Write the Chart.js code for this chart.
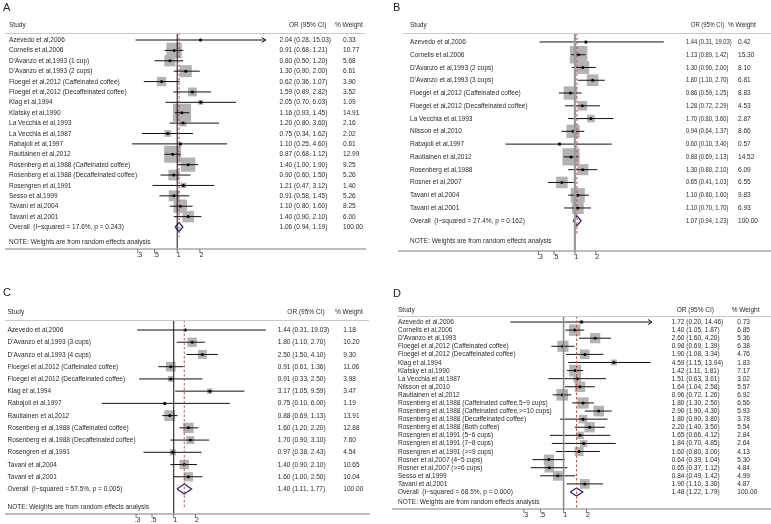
<!DOCTYPE html>
<html><head><meta charset="utf-8">
<script src="https://cdn.jsdelivr.net/npm/chart.js@4/dist/chart.umd.min.js"></script>
<style>
html,body{margin:0;padding:0;background:#fff;}
#wrap{position:relative;width:771px;height:524px;overflow:hidden;background:#fff;}
.p{position:absolute;}
canvas{display:block;}
</style></head><body>
<div id="wrap">
<div class="p" style="left:0;top:0;width:385px;height:262px"><canvas id="cA" width="385" height="262"></canvas></div>
<div class="p" style="left:385px;top:0;width:386px;height:262px"><canvas id="cB" width="386" height="262"></canvas></div>
<div class="p" style="left:0;top:262px;width:385px;height:262px"><canvas id="cC" width="385" height="262"></canvas></div>
<div class="p" style="left:385px;top:262px;width:386px;height:262px"><canvas id="cD" width="386" height="262"></canvas></div>
</div>
<script>
// ---------- DATA ----------
const tickValues = [0.3, 0.5, 1, 2];
const tickLabels = [".3", ".5", "1", "2"];
const headStudy = "Study", headOR = "OR (95% CI)", headW = "% Weight";
const noteText = "NOTE: Weights are from random effects analysis";

const A_studies = ["Azevedo et al,2006","Cornelis et al,2006","D'Avanzo et al,1993 (1 cup)","D'Avanzo et al,1993 (2 cups)","Floegel et al,2012 (Caffeinated coffee)","Floegel et al,2012 (Decaffeinated coffee)","Klag et al,1994","Klatsky et al,1990","La Vecchia et al,1993","La Vecchia et al,1987","Rabajoli et al,1997","Rautiainen et al,2012","Rosenberg et al,1988 (Caffeinated coffee)","Rosenberg et al,1988 (Decaffeinated coffee)","Rosengren et al,1991","Sesso et al,1999","Tavani et al,2004","Tavani et al,2001"];
const A_or = [2.04,0.91,0.80,1.30,0.62,1.59,2.05,1.16,1.20,0.75,1.10,0.87,1.40,0.90,1.21,0.91,1.10,1.40];
const A_lo = [0.28,0.68,0.50,0.90,0.36,0.89,0.70,0.93,0.80,0.34,0.25,0.68,1.00,0.60,0.47,0.58,0.80,0.90];
const A_hi = [15.03,1.21,1.20,2.00,1.07,2.82,6.03,1.45,3.60,1.62,4.60,1.12,1.90,1.50,3.12,1.45,1.60,2.10];
const A_weight = [0.33,10.77,5.68,6.61,3.90,3.52,1.09,14.91,2.16,2.02,0.61,12.99,9.25,5.26,1.40,5.26,8.25,6.00];
const A_overall = [1.06,0.94,1.19];
const A_overallLabel = "Overall  (I\u2212squared = 17.6%, p = 0.243)";
const A_arrowRows = [0];

const B_studies = ["Azevedo et al,2006","Cornelis et al,2006","D'Avanzo et al,1993 (2 cups)","D'Avanzo et al,1993 (3 cups)","Floegel et al,2012 (Caffeinated coffee)","Floegel et al,2012 (Decaffeinated coffee)","La Vecchia et al,1993","Nilsson et al,2010","Rabajoli et al,1997","Rautiainen et al,2012","Rosenberg et al,1988","Rosner et al,2007","Tavani et al,2004","Tavani et al,2001"];
const B_or = [1.44,1.13,1.30,1.80,0.86,1.28,1.70,0.94,0.60,0.88,1.30,0.65,1.10,1.10];
const B_lo = [0.31,0.89,0.90,1.10,0.59,0.72,0.80,0.64,0.10,0.69,0.80,0.41,0.80,0.70];
const B_hi = [19.03,1.42,2.00,2.70,1.25,2.29,3.60,1.37,3.40,1.13,2.10,1.03,1.60,1.70];
const B_weight = [0.42,15.30,8.10,6.81,8.83,4.53,2.87,8.66,0.57,14.52,6.09,6.55,9.83,6.93];
const B_overall = [1.07,0.94,1.23];
const B_overallLabel = "Overall  (I\u2212squared = 27.4%, p = 0.162)";
const B_arrowRows = [];

const C_studies = ["Azevedo et al,2006","D'Avanzo et al,1993 (3 cups)","D'Avanzo et al,1993 (4 cups)","Floegel et al,2012 (Caffeinated coffee)","Floegel et al,2012 (Decaffeinated coffee)","Klag et al,1994","Rabajoli et al,1997","Rautiainen et al,2012","Rosenberg et al,1988 (Caffeinated coffee)","Rosenberg et al,1988 (Decaffeinated coffee)","Rosengren et al,1991","Tavani et al,2004","Tavani et al,2001"];
const C_or = [1.44,1.80,2.50,0.91,0.91,3.17,0.75,0.88,1.60,1.70,0.97,1.40,1.60];
const C_lo = [0.31,1.10,1.50,0.61,0.33,1.05,0.10,0.69,1.20,0.90,0.38,0.90,1.00];
const C_hi = [19.03,2.70,4.10,1.36,2.50,9.59,6.00,1.13,2.20,3.10,2.43,2.10,2.50];
const C_weight = [1.18,10.20,9.30,11.06,3.98,3.47,1.19,13.91,12.88,7.60,4.54,10.65,10.04];
const C_overall = [1.40,1.11,1.77];
const C_overallLabel = "Overall  (I\u2212squared = 57.5%, p = 0.005)";
const C_arrowRows = [];

const D_studies = ["Azevedo et al,2006","Cornelis et al,2006","D'Avanzo et al,1993","Floegel et al,2012 (Caffeinated coffee)","Floegel et al,2012 (Decaffeinated coffee)","Klag et al,1994","Klatsky et al,1990","La Vecchia et al,1987","Nilsson et al,2010","Rautiainen et al,2012","Rosenberg et al,1988 (Caffeinated coffee,5\u22129 cups)","Rosenberg et al,1988 (Caffeinated coffee,>=10 cups)","Rosenberg et al,1988 (Decaffeinated coffee)","Rosenberg et al,1988 (Both coffee)","Rosengren et al,1991 (5\u22126 cups)","Rosengren et al,1991 (7\u22128 cups)","Rosengren et al,1991 (>=9 cups)","Rosner et al,2007 (4\u22125 cups)","Rosner et al,2007 (>=6 cups)","Sesso et al,1999","Tavani et al,2001"];
const D_or = [1.72,1.40,2.60,0.98,1.90,4.59,1.42,1.51,1.64,0.96,1.80,2.90,1.80,2.20,1.65,1.84,1.60,0.64,0.65,0.84,1.90];
const D_lo = [0.20,1.05,1.60,0.69,1.08,1.15,1.11,0.63,1.04,0.72,1.30,1.90,0.90,1.40,0.66,0.70,0.80,0.39,0.37,0.49,1.10];
const D_hi = [14.46,1.87,4.20,1.39,3.34,13.94,1.81,3.61,2.58,1.26,2.50,4.30,3.80,3.50,4.12,4.85,3.00,1.04,1.12,1.42,3.30];
const D_weight = [0.73,6.85,5.36,6.38,4.76,1.83,7.17,3.02,5.57,6.92,6.56,5.93,3.78,5.54,2.84,2.64,4.13,5.30,4.84,4.99,4.87];
const D_overall = [1.48,1.22,1.79];
const D_overallLabel = "Overall  (I\u2212squared = 68.5%, p = 0.000)";
const D_arrowRows = [0];

// ---------- LAYOUT (absolute page pixels) ----------
const LAY = {
  A:{ox:0,oy:0,w:385,h:262,letter:'A',lx:3,ly:2,headY:25,hline:33,y0:40,yN:227,noteY:242,axisY:249,
     hx0:5,hx1:365,ax0:5,ax1:366,one:173,ppl:33.4,nameX:9,orX:279.5,orHX:289,wX:343,wHX:335,sq:4.7,dh:4.5,
     refColor:'#111',refW:1,dashEnd:1.0,orSc:0.87},
  B:{ox:385,oy:0,w:386,h:262,letter:'B',lx:393,ly:2,headY:25,hline:33,y0:42,yN:222,noteY:241,axisY:251,
     hx0:403,hx1:771,ax0:398,ax1:771,one:581,ppl:31.2,nameX:410,orX:686,orHX:691,wX:738,wHX:728,sq:4.5,dh:5,
     refColor:'#9a9a9a',refW:2.2,dashEnd:1.0,orSc:0.77},
  C:{ox:0,oy:262,w:385,h:262,letter:'C',lx:3,ly:287,headY:312,hline:320,y0:330,yN:489,noteY:507,axisY:514,
     hx0:5,hx1:369,ax0:5,ax1:370,one:172.3,ppl:31.5,nameX:7.5,orX:277.7,orHX:287.3,wX:343.3,wHX:335,sq:2.9,dh:5,
     refColor:'#111',refW:1,dashEnd:1.6,orSc:0.87},
  D:{ox:385,oy:262,w:386,h:262,letter:'D',lx:393,ly:288,headY:310,hline:316,y0:322,yN:492,noteY:502,axisY:509,
     hx0:397,hx1:771,ax0:392,ax1:771,one:566.7,ppl:33.9,nameX:398,orX:671.7,orHX:676.7,wX:737.3,wHX:731.7,sq:4.4,dh:4,
     refColor:'#8c8c8c',refW:1.6,dashEnd:2.0,orSc:0.87}
};

const FONT = '"Liberation Sans", Arial, sans-serif';
const TXT = '#2a2a2a';

function build(id, L, D) {
  const N = D.studies.length;
  const s = (L.yN - L.y0) / N;
  const yMin = (L.hline - L.y0) / s, yMax = (L.axisY - L.y0) / s;
  const xMin = Math.exp((L.ax0 - L.one) / L.ppl), xMax = Math.exp((L.ax1 - L.one) / L.ppl);
  const idx = D.studies.map((_, i) => i);

  const ciPts = [];
  idx.forEach(i => { ciPts.push({x:D.lo[i], y:i}, {x:D.hi[i], y:i}, {x:D.hi[i], y:null}); });
  const back = Math.exp(-4 / L.ppl), ady = 2.6 / s;
  const arrowPts = [];
  D.arrows.forEach(i => { arrowPts.push({x:D.hi[i]*back, y:i-ady}, {x:D.hi[i], y:i}, {x:D.hi[i]*back, y:i+ady}, {x:D.hi[i], y:null}); });
  const [oe, ol, oh] = D.overall;
  const dh = L.dh / s;
  const diamond = [{x:ol,y:N},{x:oe,y:N-dh},{x:oh,y:N},{x:oe,y:N+dh},{x:ol,y:N}];

  const deco = {
    id: 'deco'+id,
    afterDatasetsDraw(chart) {
      const ctx = chart.ctx, X = chart.scales.x, Y = chart.scales.y;
      ctx.save();
      const x1 = X.getPixelForValue(1);
      ctx.strokeStyle = L.refColor; ctx.lineWidth = L.refW;
      ctx.beginPath(); ctx.moveTo(x1, L.hline - L.oy); ctx.lineTo(x1, L.axisY - L.oy); ctx.stroke();
      const xo = X.getPixelForValue(oe);
      ctx.strokeStyle = '#c0504d'; ctx.lineWidth = 1; ctx.setLineDash([2.5, 2]);
      ctx.beginPath(); ctx.moveTo(xo, L.hline - L.oy); ctx.lineTo(xo, Y.getPixelForValue(N + L.dashEnd)); ctx.stroke();
      ctx.setLineDash([]);
      ctx.restore();
    },
    afterDraw(chart) {
      const ctx = chart.ctx, X = chart.scales.x, Y = chart.scales.y;
      ctx.save();
      ctx.strokeStyle = '#c8c8c8'; ctx.lineWidth = 1;
      ctx.beginPath(); ctx.moveTo(L.hx0 - L.ox, L.hline - L.oy + 0.5); ctx.lineTo(L.hx1 - L.ox, L.hline - L.oy + 0.5); ctx.stroke();
      ctx.strokeStyle = '#a8a8a8'; ctx.lineWidth = 1.5;
      ctx.beginPath(); ctx.moveTo(L.ax0 - L.ox, L.axisY - L.oy); ctx.lineTo(L.ax1 - L.ox, L.axisY - L.oy); ctx.stroke();
      ctx.strokeStyle = '#555'; ctx.lineWidth = 0.8;
      ctx.fillStyle = TXT; ctx.font = '7px ' + FONT; ctx.textAlign = 'center'; ctx.textBaseline = 'top';
      tickValues.forEach((v, k) => {
        const tx = X.getPixelForValue(v);
        ctx.beginPath(); ctx.moveTo(tx, L.axisY - L.oy); ctx.lineTo(tx, L.axisY - L.oy + 4); ctx.stroke();
        ctx.fillText(tickLabels[k], tx + 1.5, L.axisY - L.oy + 3);
      });
      ctx.font = '11px ' + FONT; ctx.textAlign = 'left'; ctx.textBaseline = 'top'; ctx.fillStyle = '#222';
      ctx.fillText(L.letter, L.lx - L.ox, L.ly - L.oy);
      ctx.font = '7.5px ' + FONT; ctx.fillStyle = TXT; ctx.textBaseline = 'middle';
      const t = (str, x, y, sc) => { ctx.save(); ctx.translate(x - L.ox, y); ctx.scale(sc || 0.87, 1); ctx.textAlign = 'left'; ctx.fillText(str, 0, 0); ctx.restore(); };
      const hy = L.headY - L.oy;
      t(headStudy, L.nameX, hy); t(headOR, L.orHX, hy, L.orSc); t(headW, L.wHX, hy);
      const f = v => v.toFixed(2);
      idx.forEach(i => {
        const y = Y.getPixelForValue(i);
        t(D.studies[i], L.nameX, y);
        t(f(D.or[i]) + ' (' + f(D.lo[i]) + ', ' + f(D.hi[i]) + ')', L.orX, y, L.orSc);
        t(f(D.weight[i]), L.wX, y);
      });
      const yo = Y.getPixelForValue(N);
      t(D.overallLabel, L.nameX, yo);
      t(f(oe) + ' (' + f(ol) + ', ' + f(oh) + ')', L.orX, yo, L.orSc);
      t('100.00', L.wX, yo);
      t(noteText, L.nameX, L.noteY - L.oy);
      ctx.restore();
    }
  };

  return new Chart(document.getElementById(id), {
    type: 'scatter',
    data: { datasets: [
      { type:'scatter', data: idx.map(i => ({x:D.or[i], y:i})), pointStyle:'rect',
        pointRadius: D.weight.map(w => L.sq * Math.sqrt(w) / Math.SQRT2),
        pointBackgroundColor:'#b3b3b3', pointBorderWidth:0, pointBorderColor:'rgba(0,0,0,0)', order:4, clip:false },
      { type:'line', data: ciPts, borderColor:'#111', borderWidth:1, pointRadius:0, spanGaps:false, tension:0, fill:false, order:3, clip:false },
      { type:'line', data: arrowPts, borderColor:'#111', borderWidth:1, pointRadius:0, spanGaps:false, tension:0, fill:false, order:3, clip:false },
      { type:'scatter', data: idx.map(i => ({x:D.or[i], y:i})), pointStyle:'circle', pointRadius:1.5,
        pointBackgroundColor:'#000', pointBorderWidth:0, order:2, clip:false },
      { type:'line', data: diamond, borderColor:'#23236e', borderWidth:1.2, pointRadius:0, tension:0, fill:false, order:1, clip:false }
    ]},
    options: {
      responsive:false, animation:false, events:[], devicePixelRatio:1,
      layout: { padding: { left: L.ax0 - L.ox, right: L.w - (L.ax1 - L.ox), top: L.hline - L.oy, bottom: L.h - (L.axisY - L.oy) } },
      plugins: { legend:{display:false}, tooltip:{enabled:false}, title:{display:false} },
      scales: {
        x: { type:'logarithmic', min:xMin, max:xMax, display:false },
        y: { type:'linear', min:yMin, max:yMax, reverse:true, display:false }
      }
    },
    plugins: [deco]
  });
}

build('cA', LAY.A, {studies:A_studies, or:A_or, lo:A_lo, hi:A_hi, weight:A_weight, overall:A_overall, overallLabel:A_overallLabel, arrows:A_arrowRows});
build('cB', LAY.B, {studies:B_studies, or:B_or, lo:B_lo, hi:B_hi, weight:B_weight, overall:B_overall, overallLabel:B_overallLabel, arrows:B_arrowRows});
build('cC', LAY.C, {studies:C_studies, or:C_or, lo:C_lo, hi:C_hi, weight:C_weight, overall:C_overall, overallLabel:C_overallLabel, arrows:C_arrowRows});
build('cD', LAY.D, {studies:D_studies, or:D_or, lo:D_lo, hi:D_hi, weight:D_weight, overall:D_overall, overallLabel:D_overallLabel, arrows:D_arrowRows});
</script>
</body></html>
